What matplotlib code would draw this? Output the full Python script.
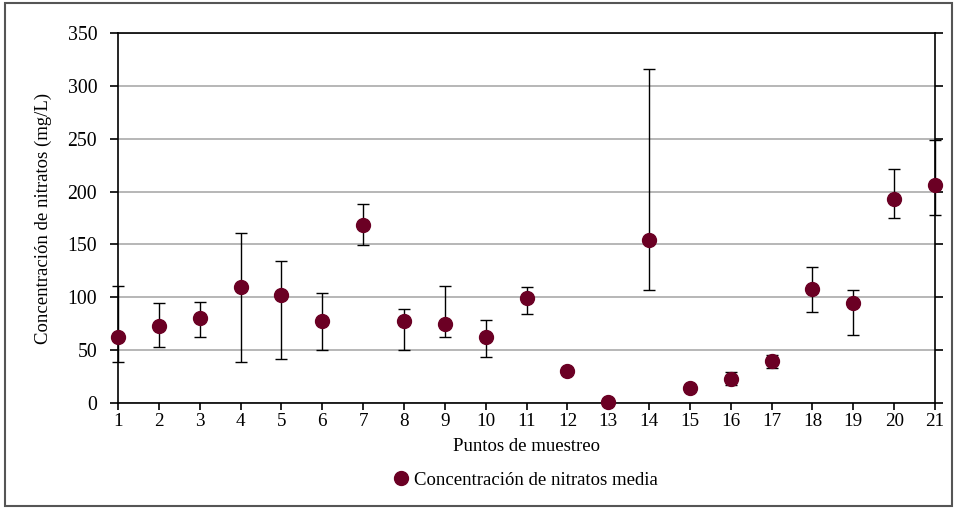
import matplotlib
matplotlib.use("Agg")
import matplotlib.pyplot as plt
from matplotlib.lines import Line2D
from matplotlib.patches import Rectangle
import numpy as np

puntos = list(range(1, 22))
media = [62, 73, 80, 110, 102, 78, 168, 78, 75, 62, 99, 30, 0.5, 154, 14.5, 22.5, 39.5, 108, 95, 193, 206]
sup = [111, 95, 96, 161, 134, 104, 188.5, 88.5, 111, 78.5, 110, 30, 0.5, 315.5, 14.5, 29.5, 45, 128.5, 106.5, 221, 248.5]
inf = [39, 53, 62, 39, 42, 50.5, 149.5, 50.5, 62, 43.5, 84, 30, 0.5, 107, 14.5, 17, 33, 86.5, 64, 175, 177.5]
yticks = [0, 50, 100, 150, 200, 250, 300, 350]

plt.rcParams['font.family'] = ['Liberation Serif', 'DejaVu Serif']

fig = plt.figure(figsize=(9.58, 5.09), dpi=100)
ax = fig.add_axes([118/958, 1-403/509, (935-118)/958, (403-33)/509])

m = np.array(media)
yerr = [m - np.array(inf), np.array(sup) - m]
color = '#6b0024'

ax.errorbar(puntos, media, yerr=yerr, fmt='none', ecolor='black', elinewidth=1.0,
            capsize=4.5, capthick=1.0, clip_on=False, zorder=3)
ax.plot(puntos, media, 'o', color=color, markersize=10, clip_on=False, zorder=4, linestyle='none')

ax.set_xlim(1, 21)
ax.set_ylim(0, 350)
ax.set_xticks(puntos)
ax.set_yticks(yticks)
ax.yaxis.grid(True, color='#aaaaaa', linewidth=1.2)
ax.set_axisbelow(True)

for s in ['left', 'right', 'top', 'bottom']:
    ax.spines[s].set_color('black')
    ax.spines[s].set_linewidth(1.2)

ax.tick_params(axis='y', which='both', direction='out', length=6, width=1.2, pad=9,
               labelsize=14.2, right=True, labelright=False)
ax.tick_params(axis='x', direction='out', length=5, width=1.2, pad=2, labelsize=13.8)

ax.set_xlabel('Puntos de muestreo', fontsize=13.5, labelpad=6)
ax.set_ylabel('Concentración de nitratos (mg/L)', fontsize=13.5, labelpad=11)

handle = Line2D([], [], marker='o', color=color, linestyle='none', markersize=10)
fig.legend([handle], ['Concentración de nitratos media'], loc='center',
           bbox_to_anchor=(524/958, 1-480/509), frameon=False, fontsize=13.5,
           handletextpad=0.1, handlelength=1.2)

fig.patches.append(Rectangle((5/958, 3/509), (952-5)/958, (506-3)/509, transform=fig.transFigure,
                             fill=False, edgecolor='#555555', linewidth=1.5))

fig.savefig('out.png', dpi=100)
